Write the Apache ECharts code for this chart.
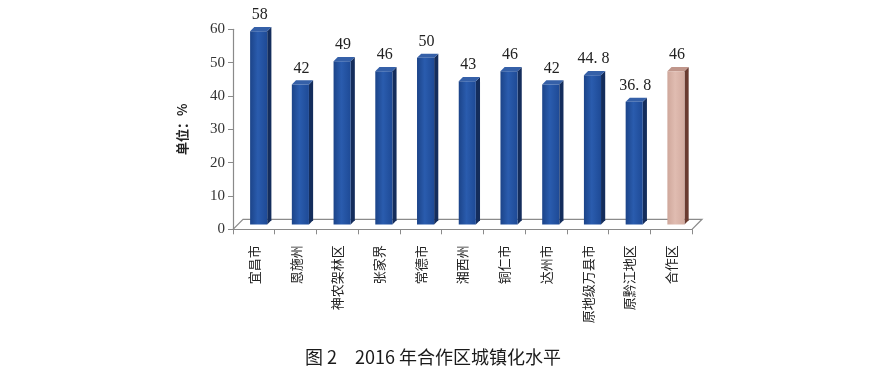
<!DOCTYPE html>
<html>
<head>
<meta charset="utf-8">
<script src="https://cdn.jsdelivr.net/npm/echarts@6/dist/echarts.min.js"></script>
<style>
html,body{margin:0;padding:0;background:#fff;}
#main{width:894px;height:384px;}
</style>
</head>
<body>
<div id="main"></div>
<script>
var categories = ['宜昌市','恩施州','神农架林区','张家界','常德市','湘西州','铜仁市','达州市','原地级万县市','原黔江地区','合作区'];
var values = [58, 42, 49, 46, 50, 43, 46, 42, 44.8, 36.8, 46];
var labels = ['58','42','49','46','50','43','46','42','44. 8','36. 8','46'];
var highlightIndex = 10;
var yTicks = {min: 0, max: 60, interval: 10};

var chart = echarts.init(document.getElementById('main'));

var blueFront = new echarts.graphic.LinearGradient(0,0,1,0,[
  {offset:0,color:'#1c4489'},{offset:0.45,color:'#2a5cae'},{offset:1,color:'#1e4a96'}]);
var blueSide = '#142d5c';
var blueTop = '#3560a8';
var pinkFront = new echarts.graphic.LinearGradient(0,0,1,0,[
  {offset:0,color:'#cfa79b'},{offset:0.45,color:'#e0bcb1'},{offset:1,color:'#d3ab9f'}]);
var pinkSide = '#6a3b30';
var pinkTop = '#c0968b';

function renderBar(params, api) {
  var i = api.value(0), v = api.value(1);
  var top = api.coord([i, v]);
  var base = api.coord([i, 0]);
  var band = api.size([1, 0])[0];
  var o = band * 0.115;
  var w = band * 0.41;
  var d = band * 0.1;
  var cx = top[0] + o;
  var xl = cx - w/2, xr = cx + w/2;
  var yt = top[1] - o, yb = base[1] - o;
  var hl = i === highlightIndex;
  return {
    type: 'group',
    children: [
      {type:'polygon', shape:{points:[[xr,yt],[xr+d,yt-d],[xr+d,yb-d],[xr,yb]]}, style:{fill: hl?pinkSide:blueSide}},
      {type:'polygon', shape:{points:[[xl,yt],[xl+d,yt-d],[xr+d,yt-d],[xr,yt]]}, style:{fill: hl?pinkTop:blueTop}},
      {type:'rect', shape:{x:xl, y:yt, width:w, height:yb-yt}, style:{fill: hl?pinkFront:blueFront}},
      {type:'text', x: cx + 1, y: yt - d - 4, style:{text: labels[i], fill:'#222', font:'16px "Liberation Serif", serif', align:'center', verticalAlign:'bottom'}}
    ]
  };
}

function renderFloor(params, api) {
  var band = api.size([1, 0])[0];
  var c0 = api.coord([0, 0]);
  var cN = api.coord([categories.length - 1, 0]);
  var xl = c0[0] - band/2, xr = cN[0] + band/2, y = c0[1];
  var d = band * 0.24;
  return {
    type:'polyline',
    shape:{points:[[xl,y],[xl+d,y-d],[xr+d,y-d],[xr,y]]},
    style:{stroke:'#8a8a8a', lineWidth:1.2, fill:null}
  };
}

var barData = values.map(function(v, i){ return [i, v]; });

chart.setOption({
  animation: false,
  backgroundColor: '#fff',
  title: {
    text: '图 2　2016 年合作区城镇化水平',
    left: 300, top: 343,
    textStyle: {fontFamily: '"Noto Sans CJK SC", sans-serif', fontSize: 18, fontWeight: 'normal', color: '#1a1a1a'}
  },
  grid: {left: 233, right: 202, top: 29.3, bottom: 154.7},
  xAxis: {
    type: 'category',
    data: categories,
    axisLine: {lineStyle: {color: '#8a8a8a', width: 1.2}},
    axisTick: {show: true, length: 5, lineStyle: {color: '#8a8a8a'}},
    axisLabel: {rotate: 90, margin: 16, fontSize: 13, color: '#222', fontFamily: '"Noto Sans CJK SC", sans-serif'}
  },
  yAxis: {
    type: 'value',
    min: yTicks.min, max: yTicks.max, interval: yTicks.interval,
    name: '单位：%',
    nameLocation: 'middle', nameGap: 44, nameRotate: 90,
    nameTextStyle: {fontSize: 13, fontWeight: 'bold', color: '#222', fontFamily: '"Noto Sans CJK SC", sans-serif'},
    axisLine: {show: true, lineStyle: {color: '#8a8a8a', width: 1.2}},
    axisTick: {show: true, length: 5, lineStyle: {color: '#8a8a8a'}},
    axisLabel: {fontSize: 15, color: '#333', margin: 8, fontFamily: '"Liberation Serif", serif'},
    splitLine: {show: false}
  },
  series: [
    {type: 'custom', renderItem: renderFloor, data: [[0, 0]], z: 1, silent: true},
    {type: 'custom', renderItem: renderBar, data: barData, z: 2}
  ]
});
</script>
</body>
</html>
